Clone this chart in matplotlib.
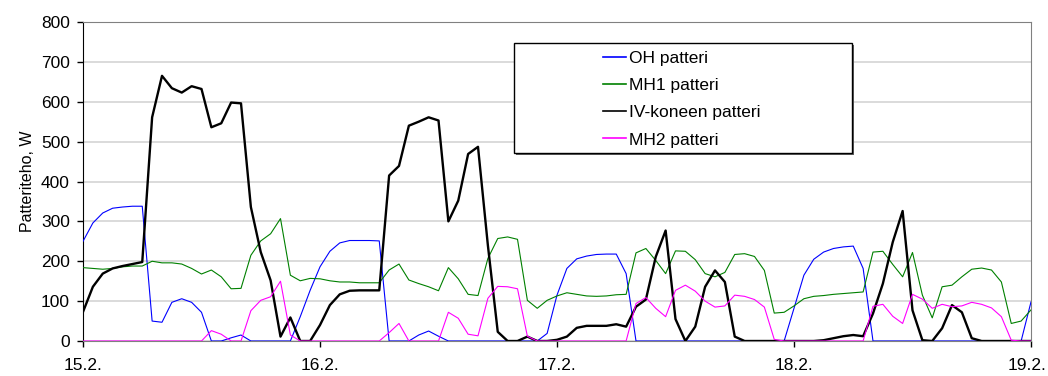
import numpy as np
import matplotlib
matplotlib.use("Agg")
import matplotlib.pyplot as plt
from matplotlib.patches import Rectangle
import matplotlib.transforms as mtransforms

plt.rcParams['font.family'] = ['Liberation Sans', 'DejaVu Sans']

day_labels = ["15.2.", "16.2.", "17.2.", "18.2.", "19.2."]
series_names = ["OH patteri", "MH1 patteri", "IV-koneen patteri", "MH2 patteri"]

# hourly values, 15.2. 00:00 ... 19.2. 00:00 (97 points)
oh = [250, 296, 321, 333, 336, 338, 338, 50, 47, 97, 106, 97, 72, 0, 0, 8, 15, 0, 0, 0,
      0, 0, 61, 127, 186, 225, 246, 252, 252, 252, 251, 0, 0, 0, 15, 25, 12, 0, 0, 0,
      0, 0, 0, 0, 0, 0, 0, 19, 115, 182, 206, 213, 217, 218, 218, 169, 0, 0, 0, 0,
      0, 0, 0, 0, 0, 0, 0, 0, 0, 0, 0, 0, 82, 165, 205, 223, 232, 236, 238, 182,
      0, 0, 0, 0, 0, 0, 0, 0, 0, 0, 0, 0, 0, 0, 0, 0, 98]
mh1 = [184, 182, 180, 182, 186, 188, 188, 200, 196, 196, 193, 182, 168, 178, 161, 131, 132, 215, 251, 269,
       307, 165, 151, 157, 156, 151, 148, 148, 146, 146, 146, 178, 193, 153, 144, 136, 126, 184, 156, 117,
       114, 207, 257, 261, 255, 102, 82, 102, 113, 121, 117, 113, 112, 113, 116, 117, 221, 232, 202, 169,
       226, 225, 204, 169, 161, 172, 217, 219, 212, 177, 70, 72, 88, 106, 112, 114, 117, 119, 121, 123,
       223, 225, 192, 161, 222, 115, 58, 136, 140, 161, 180, 183, 178, 148, 44, 50, 78]
iv = [73, 136, 169, 182, 188, 193, 198, 561, 665, 634, 623, 639, 632, 536, 546, 598, 596, 336, 223, 152,
      11, 59, 0, 0, 40, 90, 117, 126, 127, 127, 127, 415, 439, 540, 550, 561, 553, 300, 352, 469,
      487, 240, 23, 0, 0, 11, 0, 0, 3, 11, 33, 38, 38, 38, 42, 36, 86, 104, 211, 277,
      55, 0, 36, 136, 177, 148, 11, 0, 0, 0, 0, 0, 0, 0, 0, 2, 7, 12, 15, 12,
      69, 144, 248, 326, 77, 2, 0, 32, 90, 72, 7, 0, 0, 0, 0, 0, 0]
mh2 = [0, 0, 0, 0, 0, 0, 0, 0, 0, 0, 0, 0, 0, 26, 17, 0, 0, 76, 102, 111,
       150, 15, 0, 0, 0, 0, 0, 0, 0, 0, 0, 21, 44, 0, 0, 0, 0, 72, 57, 17,
       13, 107, 137, 136, 131, 12, 0, 0, 0, 0, 0, 0, 0, 0, 0, 0, 94, 109, 82, 61,
       127, 140, 125, 100, 85, 88, 115, 112, 104, 85, 4, 0, 0, 0, 0, 0, 0, 0, 0, 0,
       87, 92, 62, 44, 117, 105, 82, 92, 86, 88, 97, 92, 83, 61, 2, 0, 0]

x = np.arange(len(oh)) / 24.0

fig = plt.figure(figsize=(10.48, 3.76), dpi=100)
ax = fig.add_axes([83/1048, 1 - 341/376, (1031-83)/1048, (341-22)/376])

ax.plot(x, oh, color='#0000FF', lw=0.8, label=series_names[0], zorder=3)
ax.plot(x, mh1, color='#008000', lw=0.8, label=series_names[1], zorder=3)
ax.plot(x, iv, color='#000000', lw=1.7, label=series_names[2], zorder=3)
ax.plot(x, mh2, color='#FF00FF', lw=0.8, label=series_names[3], zorder=3)

ax.set_xlim(0, 4)
ax.set_ylim(0, 800)
ax.set_yticks(np.arange(0, 801, 100))
ax.set_xticks(np.arange(5))
ax.set_xticklabels(day_labels)
ax.grid(axis='y', color='#d4d4d4', lw=1.2, zorder=0)
ax.set_axisbelow(True)

for s in ['top', 'right']:
    ax.spines[s].set_color('#808080')
ax.spines['left'].set_color('black')
ax.spines['bottom'].set_color('#808080')
ax.tick_params(axis='both', labelsize=12.5, length=4.5, width=1, color='black', pad=5)
ax.tick_params(axis='x', pad=8)
ax.set_ylabel("Patteriteho, W", fontsize=11.5, labelpad=4)

# nudge last x label so it stays inside the image
last = ax.get_xticklabels()[-1]
last.set_transform(last.get_transform() + mtransforms.ScaledTranslation(-4/100, 0, fig.dpi_scale_trans))

# legend box
bx0 = (514-83)/948; bx1 = (852-83)/948
by0 = (341-153)/319; by1 = (341-43)/319
shadow = Rectangle((bx0 + 2/948, by0 - 2/319), bx1-bx0, by1-by0, transform=ax.transAxes,
                   facecolor='#606060', edgecolor='none', zorder=5, clip_on=False)
box = Rectangle((bx0, by0), bx1-bx0, by1-by0, transform=ax.transAxes,
                facecolor='white', edgecolor='black', lw=1, zorder=6, clip_on=False)
ax.add_patch(shadow)
ax.add_patch(box)
leg = ax.legend(loc='upper left', bbox_to_anchor=((603-83)/948, (341-50.5)/319),
                frameon=False, fontsize=12.5, handlelength=1.3, handletextpad=0.2,
                labelspacing=0.70, borderpad=0, borderaxespad=0)
leg.set_zorder(7)
for h in leg.get_lines():
    h.set_linewidth(1.2)

fig.savefig("out.png", dpi=100)
